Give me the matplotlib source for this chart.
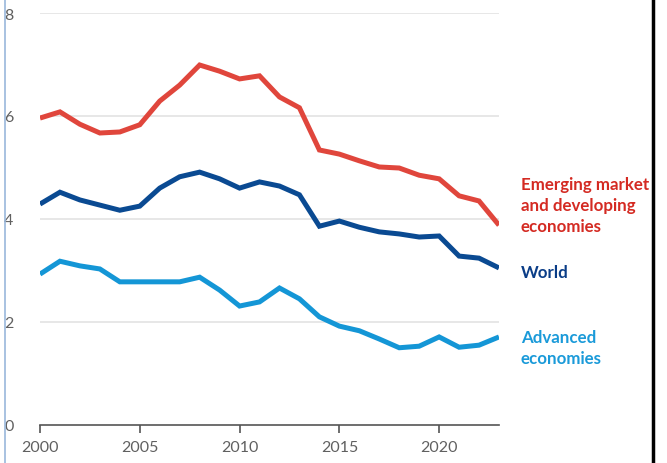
"""Growth lines for world, EMDE and advanced economies, 2000-2023."""

import matplotlib

matplotlib.use("Agg")
import matplotlib.pyplot as plt  # noqa: E402
from matplotlib.lines import Line2D  # noqa: E402

YEARS = list(range(2000, 2024))
EMDE = [5.96, 6.08, 5.84, 5.67, 5.69, 5.83, 6.29, 6.60, 6.99, 6.87, 6.72, 6.78,
        6.37, 6.16, 5.34, 5.26, 5.13, 5.01, 4.99, 4.85, 4.78, 4.45, 4.35, 3.88]
WORLD = [4.29, 4.52, 4.37, 4.27, 4.17, 4.25, 4.60, 4.82, 4.91, 4.78, 4.60, 4.72,
         4.64, 4.47, 3.86, 3.96, 3.84, 3.75, 3.71, 3.65, 3.67, 3.28, 3.24, 3.05]
ADVANCED = [2.93, 3.18, 3.09, 3.03, 2.78, 2.78, 2.78, 2.78, 2.87, 2.62, 2.31, 2.39,
            2.66, 2.45, 2.10, 1.92, 1.83, 1.67, 1.50, 1.53, 1.71, 1.51, 1.55, 1.71]

LABELS = ["Emerging market\nand developing\neconomies", "World", "Advanced\neconomies"]
COLORS = ["#e0463c", "#0a4a92", "#1496d6"]
TEXT_COLORS = ["#d42a22", "#0a3d87", "#1a9ad9"]
LABEL_Y = [4.27, 2.97, 1.5]
Y_TICKS = [0, 2, 4, 6, 8]
X_TICKS = [2000, 2005, 2010, 2015, 2020]

plt.rcParams["font.family"] = ["Lato", "DejaVu Sans"]


def run() -> None:
    fig = plt.figure(figsize=(6.67, 4.64), dpi=100)
    ax = fig.add_axes([40 / 667, 38 / 464, 459 / 667, 412 / 464])

    for series, color in zip([EMDE, WORLD, ADVANCED], COLORS):
        ax.plot(YEARS, series, color=color, lw=3.6, solid_joinstyle="miter",
                solid_capstyle="butt", zorder=3)

    for label, color, y in zip(LABELS, TEXT_COLORS, LABEL_Y):
        ax.text(2024.1, y, label, color=color, fontsize=12.2, fontweight="bold",
                va="center", ha="left", linespacing=1.4, clip_on=False)

    ax.set_xlim(2000, 2023)
    ax.set_ylim(0, 8)
    ax.set_yticks(Y_TICKS)
    ax.set_xticks(X_TICKS)
    for y in Y_TICKS[1:]:
        ax.axhline(y, color="#e3e3e3", lw=1.2, zorder=1)

    for side in ["top", "right", "left"]:
        ax.spines[side].set_visible(False)
    ax.spines["bottom"].set_color("#555555")
    ax.spines["bottom"].set_linewidth(1.2)
    ax.tick_params(axis="x", direction="out", length=6, width=1.2, color="#555555",
                   labelsize=11.5, labelcolor="#606060", pad=5)
    ax.tick_params(axis="y", length=0, labelsize=11.5, labelcolor="#606060", pad=19)

    # frame edges visible in the reference
    fig.add_artist(Line2D([4.5 / 667, 4.5 / 667], [0, 1], color="#9ab8dc", lw=1.2))
    fig.add_artist(Line2D([652.5 / 667, 652.5 / 667], [0, 1], color="#000000", lw=2.5))

    fig.savefig("out.png", dpi=100)
    plt.close(fig)


if __name__ == "__main__":
    run()
